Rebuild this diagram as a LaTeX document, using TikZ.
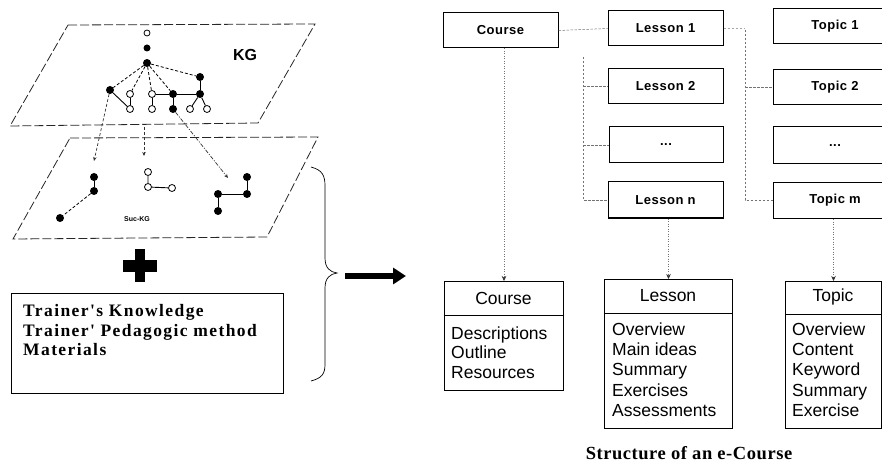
\documentclass[tikz,border=0pt]{standalone}
\usepackage{fontspec}
\setmainfont{Liberation Serif}
\setsansfont{Liberation Sans}
\newfontfamily\trfont[LetterSpace=8]{Liberation Serif}
\newfontfamily\capfont[LetterSpace=3]{Liberation Serif}
\newfontfamily\boxfont[LetterSpace=4]{Liberation Sans}
\usetikzlibrary{arrows.meta}
\begin{document}
\begin{tikzpicture}[x=1pt,y=-1pt,
  plane/.style={draw=black!85, line width=0.8pt, dash pattern=on 9pt off 3pt},
  fnode/.style={circle, fill=black, inner sep=0pt, minimum size=8pt},
  onode/.style={circle, draw=black, line width=0.8pt, fill=white, inner sep=0pt, minimum size=7pt},
  gsolid/.style={draw=black, line width=0.9pt},
  gdash/.style={draw=black, line width=0.8pt, dash pattern=on 3pt off 2pt},
  darr/.style={draw=black!80, line width=0.7pt, dash pattern=on 3pt off 2pt, -{Stealth[length=4pt,width=3.5pt]}},
  ddarr/.style={draw=black!80, line width=0.7pt, dash pattern=on 4pt off 1.5pt on 1pt off 1.5pt, -{Stealth[length=4pt,width=3.5pt]}},
  sbox/.style={draw=black, line width=1pt, minimum height=35pt, inner sep=0pt, font=\boxfont\bfseries\fontsize{13}{15}\selectfont},
  conn/.style={draw=black!55, line width=0.5pt, dash pattern=on 2.5pt off 1.5pt},
  varr/.style={draw=black!55, line width=0.5pt, dash pattern=on 1pt off 1.5pt, -{Stealth[length=5pt,width=4.5pt,black!80]}},
  cbox/.style={draw=black, line width=1pt, inner sep=0pt, anchor=north west},
  hdr/.style={font=\sffamily\fontsize{17.5}{20}\selectfont},
  itm/.style={font=\sffamily\fontsize{17.5}{20}\selectfont, anchor=base west, inner sep=0pt},
  trl/.style={font=\trfont\bfseries\fontsize{17.5}{20}\selectfont, anchor=base west, inner sep=0pt}
]
\clip (0,0) rectangle (882,462);
\fill[white] (0,0) rectangle (882,462);

% ---------- planes ----------
\draw[plane] (68,25) -- (315,24) -- (258,123) -- (10,126) -- cycle;
\draw[plane] (70,138) -- (318,137) -- (267,237) -- (13,239) -- cycle;
\node[font=\sffamily\bfseries\fontsize{16}{18}\selectfont] (kg) at (245,55) {KG};
\node[font=\sffamily\bfseries\fontsize{7}{8}\selectfont] (suckg) at (137,219) {Suc-KG};

% ---------- KG graph ----------
\node[onode, minimum size=6pt] (k0) at (147,33) {};
\node[fnode, minimum size=7pt] (k1) at (147,48) {};
\node[fnode] (hub) at (147,63) {};
\node[fnode] (kr) at (200,77) {};
\node[fnode] (kl) at (110,90) {};
\node[onode] (a1) at (130,94) {};
\node[onode] (a2) at (152,94) {};
\node[fnode] (a3) at (173,94) {};
\node[fnode] (a4) at (200,94) {};
\node[onode] (b1) at (130,109) {};
\node[onode] (b2) at (152,109) {};
\node[fnode] (b3) at (173,109) {};
\node[onode] (b4) at (190,109) {};
\node[onode] (b5) at (207,109) {};
\foreach \t in {kl,a1,a2,a3,kr} \draw[gdash] (hub) -- (\t);
\draw[gsolid] (kr) -- (a4);
\draw[gsolid] (a2) -- (a3) -- (a4);
\draw[gsolid] (kl) -- (b1);
\draw[gsolid] (a1) -- (b1);
\draw[gsolid] (a2) -- (b2);
\draw[gsolid] (a3) -- (b3);
\draw[gsolid] (a4) -- (b4);
\draw[gsolid] (a4) -- (b5);

% ---------- Sub-KG ----------
\node[fnode] (s1) at (94,177) {};
\node[fnode] (s2) at (94,191) {};
\node[fnode] (s3) at (60,218) {};
\draw[gsolid] (s1) -- (s2);
\draw[gdash] (s2) -- (s3);
\node[onode] (t1) at (148,172) {};
\node[onode] (t2) at (148,187) {};
\node[onode] (t3) at (172,188) {};
\draw[gsolid] (t1) -- (t2) -- (t3);
\node[fnode] (u1) at (247,177) {};
\node[fnode] (u2) at (247,194) {};
\node[fnode] (u3) at (218,194) {};
\node[fnode] (u4) at (218,211) {};
\draw[gsolid] (u1) -- (u2) -- (u3) -- (u4);

% ---------- projection arrows ----------
\coordinate (p1) at (94,161);
\coordinate (m0) at (144,127);
\coordinate (m1) at (144,156);
\coordinate (p3) at (228,178);
\draw[darr] (kl) -- (p1);
\draw[darr] (m0) -- (m1);
\draw[ddarr] (b3) -- (p3);

% ---------- plus ----------
\fill (135,249) rectangle (145,282);
\fill (123,260) rectangle (157,272);

% ---------- trainer box ----------
\node[draw=black, line width=1pt, anchor=north west, minimum width=272pt, minimum height=100pt, inner sep=0pt] (trainer) at (11,293) {};
\node[trl] (tr1) at (23,316.5) {Trainer's Knowledge};
\node[trl] (tr2) at (23,336) {Trainer' Pedagogic method};
\node[trl] (tr3) at (23,355) {Materials};

% ---------- brace ----------
\draw[line width=0.7pt] (311,167) .. controls (322,170) and (325,175) .. (325,186)
  -- (325,258) .. controls (325,268) and (330,272) .. (337,273)
  .. controls (330,274) and (325,278) .. (325,288)
  -- (325,364) .. controls (325,374) and (322,378) .. (311,381);

% ---------- big arrow ----------
\coordinate (ba0) at (345,276);
\coordinate (ba1) at (406,276);
\draw[line width=6pt, -{Triangle[length=13pt,width=16pt]}] (ba0) -- (ba1);

% ---------- structure boxes ----------
\node[sbox, minimum width=115pt] (course) at (500.5,30.5) {Course};
\node[sbox, minimum width=115pt] (l1) at (665.5,28.5) {Lesson 1};
\node[sbox, minimum width=115pt] (l2) at (665.5,86.5) {Lesson 2};
\node[sbox, minimum width=114pt, minimum height=36pt] (ld) at (666,145) {...};
\node[sbox, minimum width=115pt, minimum height=36pt] (ln) at (665.5,200) {Lesson n};
\node[sbox, minimum width=124pt] (tp1) at (835,26.5) {Topic 1};
\node[sbox, minimum width=124pt] (tp2) at (835,87.5) {Topic 2};
\node[sbox, minimum width=124pt, minimum height=37pt] (tpd) at (835,145.5) {...};
\node[sbox, minimum width=124pt, minimum height=36pt] (tpm) at (835,200.5) {Topic m};

% connectors
\draw[conn] (course.east) -- (l1.west);
\coordinate (lb) at (583,57);
\draw[conn] (lb) -- (lb |- ln.west) -- (ln.west);
\draw[conn] (l2.west -| lb) -- (l2.west);
\draw[conn] (ld.west -| lb) -- (ld.west);
\coordinate (tb) at (745,30);
\draw[conn, draw=black!35] (l1.east) -- (l1.east -| tb);
\draw[conn] (tb) -- (tb |- tpm.west) -- (tpm.west);
\draw[conn] (tp2.west -| tb) -- (tp2.west);

% ---------- class boxes ----------
\node[cbox, minimum width=119pt, minimum height=109pt] (cc) at (444,281) {};
\draw[line width=1pt] ([yshift=-34pt]cc.north west) -- ([yshift=-34pt]cc.north east);
\node[hdr] (cch) at (503.5,298) {Course};
\foreach \t [count=\i] in {Descriptions,Outline,Resources}
  \node[itm] (cci\i) at (451,{339+19.5*(\i-1)}) {\t};

\node[cbox, minimum width=128pt, minimum height=149pt] (cl) at (604,279) {};
\draw[line width=1pt] ([yshift=-34pt]cl.north west) -- ([yshift=-34pt]cl.north east);
\node[hdr] (clh) at (668,296) {Lesson};
\foreach \t [count=\i] in {Overview,Main ideas,Summary,Exercises,Assessments}
  \node[itm] (cli\i) at (612,{335.5+20.2*(\i-1)}) {\t};

\node[cbox, minimum width=96pt, minimum height=147pt] (ct) at (785,281) {};
\draw[line width=1pt] ([yshift=-33pt]ct.north west) -- ([yshift=-33pt]ct.north east);
\node[hdr] (cth) at (833,297) {Topic};
\foreach \t [count=\i] in {Overview,Content,Keyword,Summary,Exercise}
  \node[itm] (cti\i) at (792,{335.5+20.2*(\i-1)}) {\t};

% vertical arrows
\draw[varr] (course.south -| cc.north) -- (cc.north);
\draw[varr] (ln.south -| cl.north) -- (cl.north);
\draw[varr] (tpm.south -| ct.north) -- (ct.north);

% ---------- caption ----------
\node[font=\capfont\bfseries\fontsize{18.5}{22}\selectfont] (cap) at (689,453) {Structure of an e-Course};
\end{tikzpicture}
\end{document}
